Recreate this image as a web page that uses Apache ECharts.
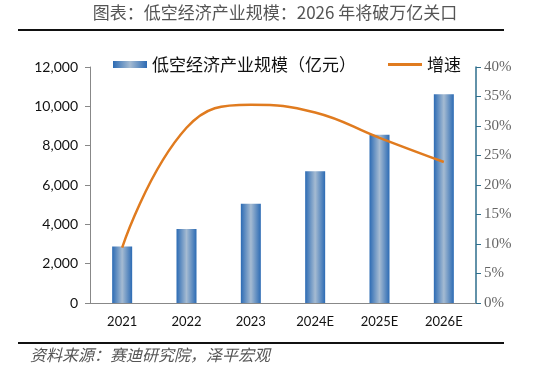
<!DOCTYPE html>
<html>
<head>
<meta charset="utf-8">
<script src="https://cdn.jsdelivr.net/npm/echarts@6/dist/echarts.min.js"></script>
<style>
  html, body { margin: 0; padding: 0; background: #fff; }
  #chart { width: 550px; height: 377px; }
</style>
</head>
<body>
<div id="chart"></div>
<script>
// 数据
const years = ['2021', '2022', '2023', '2024E', '2025E', '2026E'];
const scale = [2870, 3760, 5050, 6700, 8560, 10610];   // 亿元
const growth = [9.4, 29.7, 33.6, 32.3, 28.0, 23.9];     // %

const chart = echarts.init(document.getElementById('chart'));

const barColor = new echarts.graphic.LinearGradient(0, 0, 1, 0, [
  { offset: 0, color: '#2c6bb4' },
  { offset: 0.5, color: '#a5bbd2' },
  { offset: 1, color: '#2c6bb4' }
]);

const cjk = '"Noto Sans CJK SC", sans-serif';

chart.setOption({
  animation: false,
  grid: { left: 90, right: 74, top: 67, bottom: 74 },
  legend: {
    left: 108, top: 51,
    itemWidth: 34, itemHeight: 7, itemGap: 32,
    textStyle: { fontFamily: cjk, fontSize: 17, color: '#111' },
    data: [
      { name: '低空经济产业规模（亿元）', icon: 'rect' },
      { name: '增速', icon: 'path://M0,0L34,0L34,3L0,3Z' }
    ]
  },
  xAxis: {
    type: 'category',
    data: years,
    axisLine: { lineStyle: { color: '#888', width: 1 } },
    axisTick: { lineStyle: { color: '#888' }, length: 5 },
    axisLabel: { color: '#111', fontSize: 13, fontFamily: 'Lato', margin: 12 }
  },
  yAxis: [
    {
      type: 'value', min: 0, max: 12000, interval: 2000,
      splitLine: { show: false },
      axisLine: { show: true, lineStyle: { color: '#888' } },
      axisTick: { show: true, length: 5, lineStyle: { color: '#888' } },
      axisLabel: {
        color: '#111', fontSize: 14, fontFamily: 'Lato', margin: 12,
        formatter: v => v.toLocaleString('en-US')
      }
    },
    {
      type: 'value', min: 0, max: 40, interval: 5,
      splitLine: { show: false },
      axisLine: { show: true, lineStyle: { color: '#2e6e8c', width: 1.5 } },
      axisTick: { show: true, length: 5, lineStyle: { color: '#2e6e8c' } },
      axisLabel: {
        color: '#666', fontSize: 15, fontFamily: 'Liberation Serif', margin: 8,
        formatter: '{value}%'
      }
    }
  ],
  series: [
    {
      name: '低空经济产业规模（亿元）',
      type: 'bar',
      barWidth: 20,
      data: scale,
      itemStyle: { color: barColor }
    },
    {
      name: '增速',
      type: 'line',
      yAxisIndex: 1,
      smooth: 0.45,
      symbol: 'none',
      data: growth,
      lineStyle: { color: '#e07b1f', width: 2.5 },
      itemStyle: { color: '#e07b1f' }
    }
  ],
  graphic: [
    {
      type: 'text', left: 'center', top: 4,
      style: {
        text: '图表：低空经济产业规模：2026 年将破万亿关口',
        fill: '#555', fontSize: 17, fontFamily: cjk
      }
    },
    {
      type: 'line', shape: { x1: 18, y1: 30, x2: 504, y2: 30 },
      style: { stroke: '#111', lineWidth: 2 }
    },
    {
      type: 'line', shape: { x1: 18, y1: 343, x2: 504, y2: 343 },
      style: { stroke: '#111', lineWidth: 2 }
    },
    {
      type: 'text', left: 30, top: 347,
      style: {
        text: '资料来源：赛迪研究院，泽平宏观',
        fill: '#555', fontSize: 16, fontFamily: cjk, fontStyle: 'italic'
      }
    }
  ]
});
</script>
</body>
</html>
